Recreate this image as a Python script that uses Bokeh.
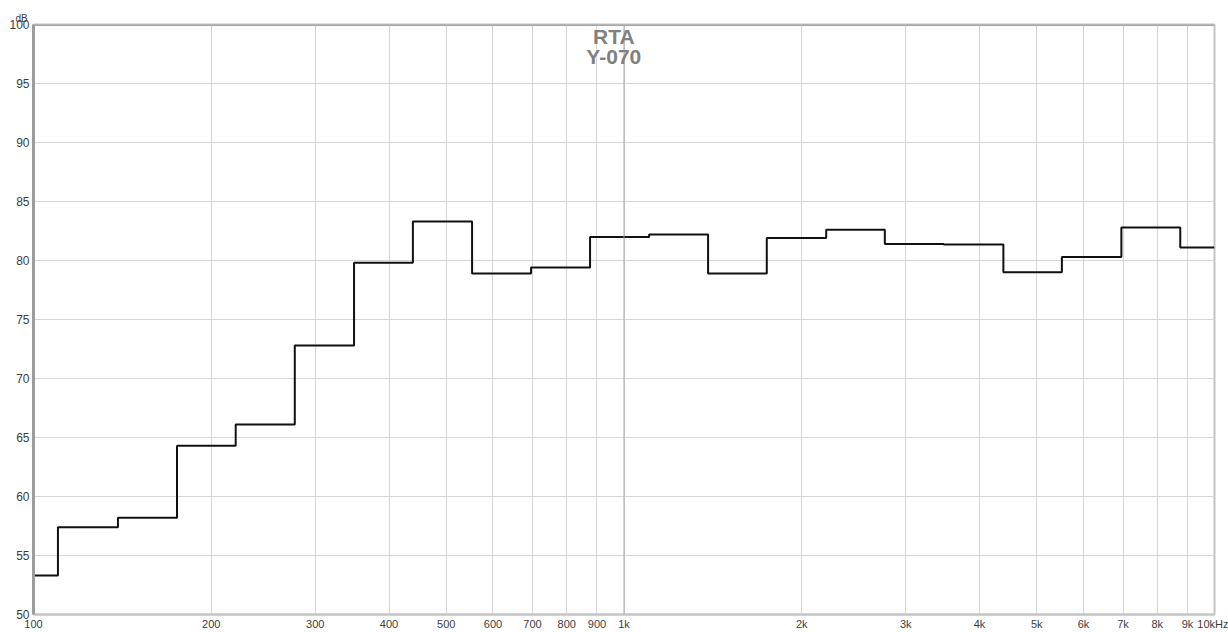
from bokeh.plotting import figure
from bokeh.models import Range1d, FixedTicker, Label, Span, Title
from bokeh.embed import file_html
from bokeh.resources import INLINE

# Band edges (Hz); the curve is held constant between them
band_edges = [100, 110, 139, 175, 220, 277, 349, 439, 553, 696, 876, 1103, 1388,
              1745, 2200, 2765, 3480, 4390, 5515, 6955, 8750, 10000]
# Level (dB) in each band
band_levels = [53.3, 57.4, 58.2, 64.3, 66.1, 72.8, 79.8, 83.3, 78.9, 79.4, 82.0,
               82.2, 78.9, 81.9, 82.6, 81.4, 81.35, 79.0, 80.3, 82.8, 81.1]

x_ticks = [100, 200, 300, 400, 500, 600, 700, 800, 900,
           1000, 2000, 3000, 4000, 5000, 6000, 7000, 8000, 9000, 10000]
x_tick_labels = ["100", "200", "300", "400", "500", "600", "700", "800", "900",
                 "1k", "2k", "3k", "4k", "5k", "6k", "7k", "8k", "9k", "10kHz"]
y_ticks = [50, 55, 60, 65, 70, 75, 80, 85, 90, 95, 100]

title_lines = ["RTA", "Y-070"]
unit_label = "dB"

FONT = "Liberation Sans"
TICK_COLOR = "#3c3c3c"
GRID = "#d6d6d6"

p = figure(width=1228, height=632, x_axis_type="log",
           x_range=Range1d(100, 10000), y_range=Range1d(50, 100),
           output_backend="svg", toolbar_location=None,
           min_border_left=33, min_border_right=14,
           min_border_top=24, min_border_bottom=16)
p.background_fill_color = "white"
p.border_fill_color = "white"
p.outline_line_color = "#c4c4c4"
p.outline_line_width = 2

# unit label above the y axis, as a small left-aligned title
p.add_layout(Title(text=unit_label, align="left", offset=-18, standoff=1,
                   text_font=FONT, text_font_size="10px", text_font_style="normal",
                   text_color=TICK_COLOR), "above")

# axes
p.xaxis.ticker = FixedTicker(ticks=x_ticks)
p.xaxis.major_label_overrides = {t: l for t, l in zip(x_ticks, x_tick_labels)}
p.yaxis.ticker = FixedTicker(ticks=y_ticks)
for ax in (p.xaxis[0], p.yaxis[0]):
    ax.major_tick_line_color = None
    ax.minor_tick_line_color = None
    ax.major_tick_out = 0
    ax.major_tick_in = 0
    ax.major_label_text_font = FONT
    ax.major_label_text_color = TICK_COLOR
p.xaxis.major_label_text_font_size = "11px"
p.xaxis.major_label_standoff = 3
p.xaxis.axis_line_color = "#c4c4c4"
p.xaxis.axis_line_width = 2
p.yaxis.major_label_text_font_size = "12px"
p.yaxis.major_label_standoff = 4
p.yaxis.axis_line_color = "#9c9c9c"
p.yaxis.axis_line_width = 3

# grids
p.xgrid.ticker = FixedTicker(ticks=x_ticks)
p.ygrid.ticker = FixedTicker(ticks=y_ticks)
p.xgrid.grid_line_color = GRID
p.ygrid.grid_line_color = GRID
p.xgrid.grid_line_width = 1
p.ygrid.grid_line_width = 1

# darker 1 kHz line and top border
p.add_layout(Span(location=1000, dimension="height", line_color="#a8a8a8", line_width=1))
p.add_layout(Span(location=100, dimension="width", line_color="#a6a6a6", line_width=3))

# data
p.step(x=band_edges, y=band_levels + [band_levels[-1]], mode="after",
       line_color="#111111", line_width=2)

# title inside plot
p.add_layout(Label(x=961, y=99.0, text=title_lines[0], text_align="center",
                   text_baseline="alphabetic", text_font=FONT, text_font_size="21px",
                   text_font_style="bold", text_color="#808080"))
p.add_layout(Label(x=961, y=97.3, text=title_lines[1], text_align="center",
                   text_baseline="alphabetic", text_font=FONT, text_font_size="21px",
                   text_font_style="bold", text_color="#808080"))

open("out.html", "w").write(file_html(p, INLINE))
